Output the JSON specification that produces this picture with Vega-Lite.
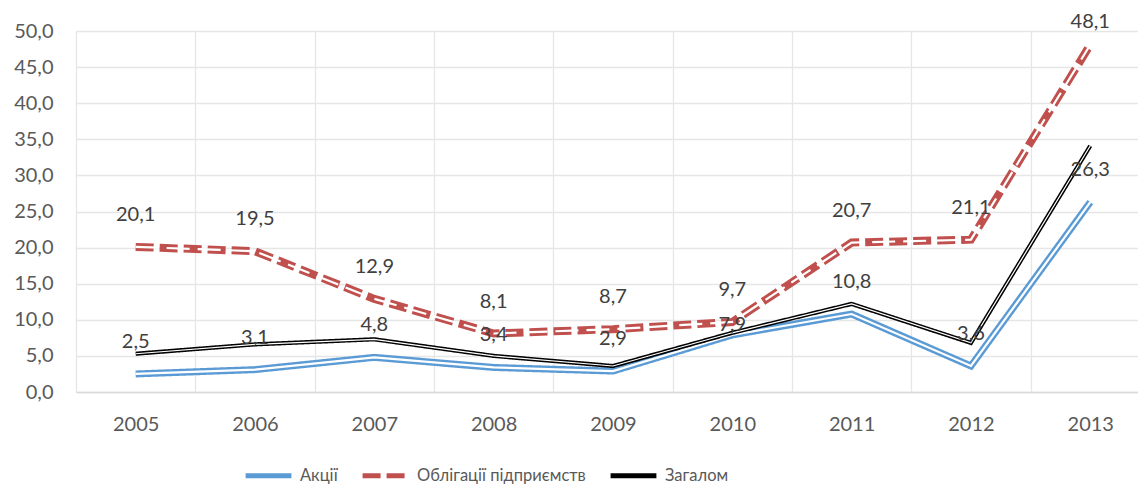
{
  "$schema": "https://vega.github.io/schema/vega-lite/v6.json",
  "width": 1062,
  "height": 361,
  "autosize": {"type": "none"},
  "padding": {"left": 76, "top": 31, "right": 0, "bottom": 94},
  "background": "white",
  "config": {
    "locale": {"number": {"decimal": ",", "thousands": " ", "grouping": [3], "currency": ["", ""]}},
    "font": "Lato",
    "view": {"stroke": null},
    "axis": {"labelFont": "Lato", "labelFontSize": 20, "labelColor": "#595959", "gridColor": "#e6e6e6", "gridWidth": 1.3}
  },
  "data": {
    "values": [
      {"year": 2005, "s": "Акції", "v": 2.5},
      {"year": 2006, "s": "Акції", "v": 3.1},
      {"year": 2007, "s": "Акції", "v": 4.8},
      {"year": 2008, "s": "Акції", "v": 3.4},
      {"year": 2009, "s": "Акції", "v": 2.9},
      {"year": 2010, "s": "Акції", "v": 7.9},
      {"year": 2011, "s": "Акції", "v": 10.8},
      {"year": 2012, "s": "Акції", "v": 3.6},
      {"year": 2013, "s": "Акції", "v": 26.3},
      {"year": 2005, "s": "Облігації підприємств", "v": 20.1},
      {"year": 2006, "s": "Облігації підприємств", "v": 19.5},
      {"year": 2007, "s": "Облігації підприємств", "v": 12.9},
      {"year": 2008, "s": "Облігації підприємств", "v": 8.1},
      {"year": 2009, "s": "Облігації підприємств", "v": 8.7},
      {"year": 2010, "s": "Облігації підприємств", "v": 9.7},
      {"year": 2011, "s": "Облігації підприємств", "v": 20.7},
      {"year": 2012, "s": "Облігації підприємств", "v": 21.1},
      {"year": 2013, "s": "Облігації підприємств", "v": 48.1},
      {"year": 2005, "s": "Загалом", "v": 5.3},
      {"year": 2006, "s": "Загалом", "v": 6.6},
      {"year": 2007, "s": "Загалом", "v": 7.3},
      {"year": 2008, "s": "Загалом", "v": 5.0},
      {"year": 2009, "s": "Загалом", "v": 3.6},
      {"year": 2010, "s": "Загалом", "v": 8.2},
      {"year": 2011, "s": "Загалом", "v": 12.2},
      {"year": 2012, "s": "Загалом", "v": 6.8},
      {"year": 2013, "s": "Загалом", "v": 34.1}
    ]
  },
  "encoding": {
    "x": {
      "field": "year", "type": "quantitative",
      "scale": {"domain": [2004.5, 2013.4], "nice": false, "zero": false},
      "axis": {
        "title": null,
        "values": [2004.5, 2005.5, 2006.5, 2007.5, 2008.5, 2009.5, 2010.5, 2011.5, 2012.5],
        "labelExpr": "format(datum.value + 0.5, 'd')",
        "labelOffset": 59.65,
        "labelPadding": 22,
        "ticks": false,
        "grid": true,
        "domain": true,
        "domainColor": "#d9d9d9",
        "domainWidth": 1.3,
        "labelFlush": false,
        "labelOverlap": false
      }
    },
    "y": {
      "field": "v", "type": "quantitative",
      "scale": {"domain": [0, 50], "nice": false},
      "axis": {
        "title": null,
        "values": [0, 5, 10, 15, 20, 25, 30, 35, 40, 45, 50],
        "format": ".1f",
        "ticks": false,
        "domain": false,
        "grid": true,
        "labelPadding": 23
      }
    }
  },
  "layer": [
    {
      "transform": [{"filter": "datum.s === 'Акції'"}],
      "mark": {"type": "line", "strokeWidth": 7},
      "encoding": {
        "color": {"field": "s", "type": "nominal", "scale": {"domain": ["Акції", "Облігації підприємств", "Загалом"], "range": ["#5b9bd5", "#c0504d", "#000000"]},
          "legend": {"title": null, "orient": "none", "legendX": 167, "legendY": 419, "direction": "horizontal", "symbolType": "stroke", "symbolSize": 2100, "symbolStrokeWidth": 5, "labelFontSize": 16.5, "labelColor": "#595959", "labelFont": "Lato", "labelLimit": 400, "columnPadding": 14, "labelOffset": 6}},
        "strokeDash": {"field": "s", "type": "nominal", "scale": {"domain": ["Акції", "Облігації підприємств", "Загалом"], "range": [[1, 0], [18, 6], [1, 0]]}}
      }
    },
    {
      "transform": [{"filter": "datum.s === 'Акції'"}],
      "mark": {"type": "line", "strokeWidth": 2.2, "color": "white"},
      "encoding": {}
    },
    {
      "transform": [{"filter": "datum.s === 'Облігації підприємств'"}],
      "mark": {"type": "line", "strokeWidth": 8},
      "encoding": {
        "color": {"field": "s", "type": "nominal", "scale": {"domain": ["Акції", "Облігації підприємств", "Загалом"], "range": ["#5b9bd5", "#c0504d", "#000000"]}},
        "strokeDash": {"field": "s", "type": "nominal", "scale": {"domain": ["Акції", "Облігації підприємств", "Загалом"], "range": [[1, 0], [23, 8], [1, 0]]}}
      }
    },
    {
      "transform": [{"filter": "datum.s === 'Облігації підприємств'"}],
      "mark": {"type": "line", "strokeWidth": 2.2, "color": "white", "strokeDash": [23, 8]},
      "encoding": {}
    },
    {
      "transform": [{"filter": "datum.s === 'Загалом'"}],
      "mark": {"type": "line", "strokeWidth": 4.2},
      "encoding": {
        "color": {"field": "s", "type": "nominal", "scale": {"domain": ["Акції", "Облігації підприємств", "Загалом"], "range": ["#5b9bd5", "#c0504d", "#000000"]}},
        "strokeDash": {"field": "s", "type": "nominal", "scale": {"domain": ["Акції", "Облігації підприємств", "Загалом"], "range": [[1, 0], [23, 8], [1, 0]]}}
      }
    },
    {
      "transform": [{"filter": "datum.s === 'Загалом'"}],
      "mark": {"type": "line", "strokeWidth": 1.2, "color": "white"},
      "encoding": {}
    },
    {
      "transform": [{"filter": "datum.s !== 'Загалом' && !(datum.s === 'Акції' && datum.year === 2010) && !(datum.year === 2013 && datum.s !== 'Акції')"}],
      "mark": {"type": "text", "dy": -32, "fontSize": 20, "font": "Lato", "color": "#404040", "baseline": "middle", "align": "center"},
      "encoding": {"text": {"field": "v", "type": "quantitative", "format": ".1f"}}
    },
    {
      "transform": [{"filter": "datum.s === 'Акції' && datum.year === 2010"}],
      "mark": {"type": "text", "dy": -10, "fontSize": 20, "font": "Lato", "color": "#404040", "baseline": "middle", "align": "center"},
      "encoding": {"text": {"field": "v", "type": "quantitative", "format": ".1f"}}
    },
    {
      "transform": [{"filter": "datum.s === 'Облігації підприємств' && datum.year === 2013"}],
      "mark": {"type": "text", "dy": -23, "fontSize": 20, "font": "Lato", "color": "#404040", "baseline": "middle", "align": "center"},
      "encoding": {"text": {"field": "v", "type": "quantitative", "format": ".1f"}}
    }
  ]
}
